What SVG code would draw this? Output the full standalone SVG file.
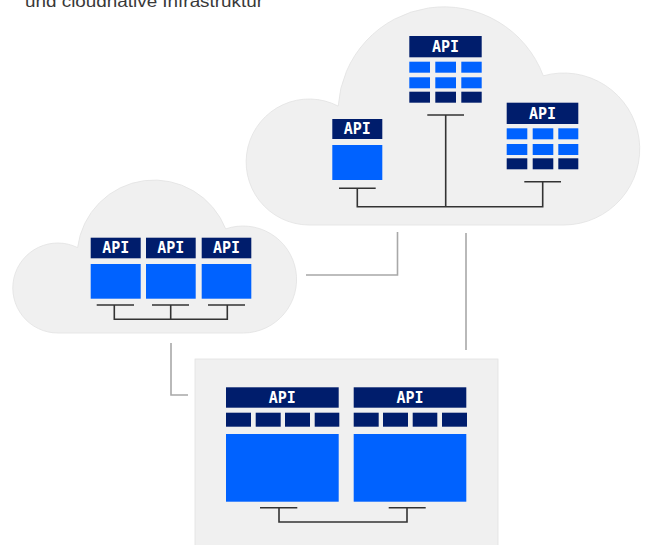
<svg xmlns="http://www.w3.org/2000/svg" width="648" height="545" viewBox="0 0 648 545">
<style>
.bg{fill:#f0f0f0;stroke:#e2e2e2;stroke-width:0.8}
.hd{fill:#001d6c}
.bl{fill:#0062ff}
.dk{fill:#001d6c}
.api{font-family:"DejaVu Sans Mono","Liberation Mono",monospace;font-weight:bold;font-size:15px;fill:#ffffff;text-anchor:middle}
.wire{fill:none;stroke:#333333;stroke-width:1.6}
.link{fill:none;stroke:#a8a8a8;stroke-width:1.6}
.cap{font-family:"Liberation Sans","Noto Sans",sans-serif;font-size:16px;fill:#393939}
</style>
<rect width="648" height="545" fill="#ffffff"/>
<text class="cap" x="25" y="7" textLength="238" lengthAdjust="spacingAndGlyphs">und cloudnative Infrastruktur</text>

<g id="cloud-large">
<path class="bg" d="M564 225 L309 225 A63 63 0 1 1 338.2 106.1 A106 106 0 0 1 543.3 75.8 A76 76 0 1 1 564 225 Z"/>
</g>
<g id="cloud-small">
<path class="bg" d="M243.5 333 L58 333 A45 45 0 1 1 77.6 247.6 A77 77 0 0 1 225.7 228.9 A53.5 53.5 0 1 1 243.5 333 Z"/>
</g>
<g id="onprem">
<rect class="bg" x="195" y="359" width="303" height="190"/>
</g>

<g id="connectors">
<path class="link" d="M397.5 232 V275 H306"/>
<path class="link" d="M466 233 V350"/>
<path class="link" d="M171 343 V395 H188"/>
<path class="wire" d="M339 188.3 H375.7 M357.3 188.3 V206.7 H542.7 V181.7 M524.3 181.7 H561 M427.3 115 H464 M445.7 115 V206.7"/>
<path class="wire" d="M96.7 305 H134 M152 305 H189 M208 305 H245 M114.3 305 V319.3 H227.3 V305 M170.7 305 V319.3"/>
<path class="wire" d="M260 507.7 H297.3 M388.7 507.7 H425.7 M279 507.7 V522 H407 V507.7"/>
</g>

<g id="api-left">
<rect class="hd" x="332.3" y="119" width="50" height="20"/>
<text class="api" x="357.3" y="134.4">API</text>
<rect class="bl" x="332.3" y="145" width="50" height="35"/>
</g>

<g id="api-top">
<rect class="hd" x="409.3" y="36" width="72.4" height="21.3"/>
<text class="api" x="445.5" y="52">API</text>
<rect class="bl" x="409.3" y="61.7" width="20.7" height="11"/>
<rect class="bl" x="435.3" y="61.7" width="20.7" height="11"/>
<rect class="bl" x="461.3" y="61.7" width="20.4" height="11"/>
<rect class="bl" x="409.3" y="77.3" width="20.7" height="11"/>
<rect class="bl" x="435.3" y="77.3" width="20.7" height="11"/>
<rect class="bl" x="461.3" y="77.3" width="20.4" height="11"/>
<rect class="dk" x="409.3" y="91.7" width="20.7" height="11"/>
<rect class="dk" x="435.3" y="91.7" width="20.7" height="11"/>
<rect class="dk" x="461.3" y="91.7" width="20.4" height="11"/>
</g>

<g id="api-right">
<rect class="hd" x="506.7" y="102.7" width="71.6" height="21.3"/>
<text class="api" x="542.5" y="118.7">API</text>
<rect class="bl" x="506.7" y="128.3" width="20.6" height="11"/>
<rect class="bl" x="532.7" y="128.3" width="20.6" height="11"/>
<rect class="bl" x="558.3" y="128.3" width="20" height="11"/>
<rect class="bl" x="506.7" y="144" width="20.6" height="11"/>
<rect class="bl" x="532.7" y="144" width="20.6" height="11"/>
<rect class="bl" x="558.3" y="144" width="20" height="11"/>
<rect class="dk" x="506.7" y="158.3" width="20.6" height="11"/>
<rect class="dk" x="532.7" y="158.3" width="20.6" height="11"/>
<rect class="dk" x="558.3" y="158.3" width="20" height="11"/>
</g>

<g id="api-small-1">
<rect class="hd" x="90.7" y="237.7" width="50" height="20.6"/>
<text class="api" x="115.7" y="253.3">API</text>
<rect class="bl" x="90.7" y="264" width="50" height="34.7"/>
</g>
<g id="api-small-2">
<rect class="hd" x="146" y="237.7" width="49.7" height="20.6"/>
<text class="api" x="170.8" y="253.3">API</text>
<rect class="bl" x="146" y="264" width="49.7" height="34.7"/>
</g>
<g id="api-small-3">
<rect class="hd" x="201.7" y="237.7" width="49.6" height="20.6"/>
<text class="api" x="226.5" y="253.3">API</text>
<rect class="bl" x="201.7" y="264" width="49.6" height="34.7"/>
</g>

<g id="api-onprem-1">
<rect class="hd" x="226" y="387.3" width="112.7" height="20.4"/>
<text class="api" x="282.3" y="402.8">API</text>
<rect class="dk" x="226" y="412.7" width="25" height="14"/>
<rect class="dk" x="255.7" y="412.7" width="25" height="14"/>
<rect class="dk" x="285" y="412.7" width="25" height="14"/>
<rect class="dk" x="314.7" y="412.7" width="24.6" height="14"/>
<rect class="bl" x="226" y="434" width="112.7" height="67.7"/>
</g>
<g id="api-onprem-2">
<rect class="hd" x="353.7" y="387.3" width="112.6" height="20.4"/>
<text class="api" x="410" y="402.8">API</text>
<rect class="dk" x="353.7" y="412.7" width="25" height="14"/>
<rect class="dk" x="383" y="412.7" width="25" height="14"/>
<rect class="dk" x="412.7" y="412.7" width="24.6" height="14"/>
<rect class="dk" x="442" y="412.7" width="25" height="14"/>
<rect class="bl" x="353.7" y="434" width="112.6" height="67.7"/>
</g>
</svg>
